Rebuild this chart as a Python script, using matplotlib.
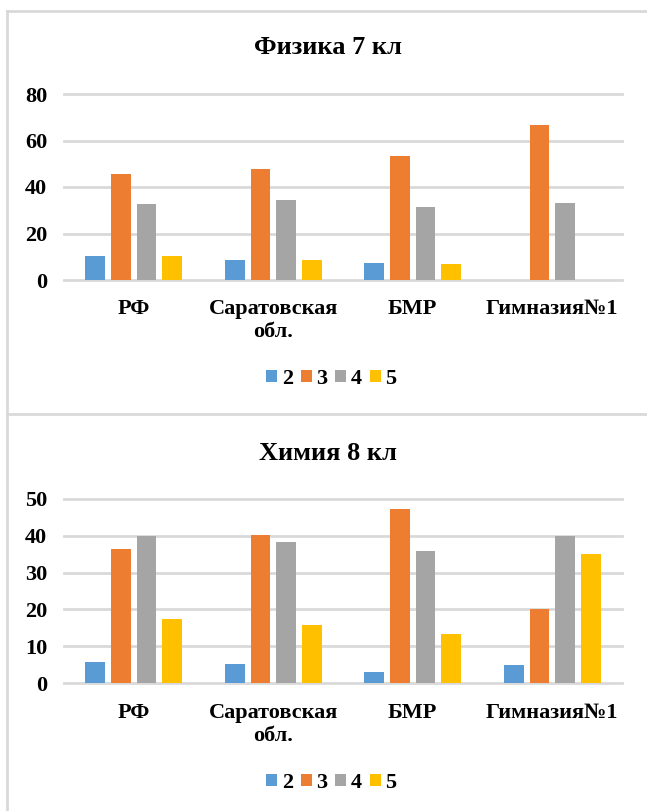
import matplotlib
matplotlib.use("Agg")
import matplotlib.pyplot as plt
import numpy as np
from matplotlib.lines import Line2D
from matplotlib.patches import Patch

categories = ["РФ", "Саратовская\nобл.", "БМР", "Гимназия№1"]
series_names = ["2", "3", "4", "5"]
colors = ["#5B9BD5", "#ED7D31", "#A5A5A5", "#FFC000"]

phys_title = "Физика 7 кл"
phys_2 = [10.5, 8.8, 7.5, 0]
phys_3 = [45.7, 47.7, 53.3, 66.6]
phys_4 = [32.7, 34.3, 31.6, 33.3]
phys_5 = [10.2, 8.8, 6.9, 0]
phys_ticks = [0, 20, 40, 60, 80]

chem_title = "Химия 8 кл"
chem_2 = [5.9, 5.2, 3.1, 5.0]
chem_3 = [36.4, 40.2, 47.3, 20.0]
chem_4 = [39.9, 38.4, 35.9, 40.0]
chem_5 = [17.5, 15.9, 13.4, 34.9]
chem_ticks = [0, 10, 20, 30, 40, 50]

FONT = "Liberation Serif"
W, H = 647, 811
fig = plt.figure(figsize=(W / 100, H / 100), dpi=100)
fig.patch.set_facecolor("white")

grid_c = "#D9D9D9"

def draw(rect, title, data, ticks, title_y, legend_y):
    ax = fig.add_axes(rect)
    x = np.arange(len(categories))
    bw = 0.143
    step = 0.183
    for i, (vals, c) in enumerate(zip(data, colors)):
        ax.bar(x + (i - 1.5) * step, vals, width=bw, color=c, zorder=3)
    ax.set_xlim(-0.5, len(categories) - 0.5)
    ax.set_ylim(ticks[0], ticks[-1])
    ax.set_yticks(ticks)
    ax.set_yticklabels([str(t) for t in ticks], fontfamily=FONT, fontweight="bold", fontsize=16)
    ax.set_xticks(x)
    ax.set_xticklabels(categories, fontfamily=FONT, fontweight="bold", fontsize=16, linespacing=1.2)
    ax.tick_params(axis="both", length=0)
    ax.tick_params(axis="y", pad=12)
    ax.tick_params(axis="x", pad=14)
    for s in ax.spines.values():
        s.set_visible(False)
    ax.yaxis.grid(True, color=grid_c, linewidth=2, zorder=0)
    ax.set_axisbelow(True)
    for gl in ax.get_ygridlines():
        gl.set_clip_on(False)
    fig.text(0.5 + 0.007, title_y, title, ha="center", va="center",
             fontfamily=FONT, fontweight="bold", fontsize=19)
    handles = [Patch(facecolor=c, edgecolor="none") for c in colors]
    fig.legend(handles, series_names, loc="center", bbox_to_anchor=(0.512, legend_y),
               ncol=4, frameon=False, handlelength=0.5, handleheight=0.5,
               handletextpad=0.2, columnspacing=0.35,
               prop={"family": FONT, "weight": "bold", "size": 16})
    return ax

draw([64 / W, 1 - 280 / H, 558 / W, 186 / H], phys_title,
     [phys_2, phys_3, phys_4, phys_5], phys_ticks, 1 - 48 / H, 1 - 379 / H)
draw([64 / W, 1 - 683.3 / H, 558 / W, 184.6 / H], chem_title,
     [chem_2, chem_3, chem_4, chem_5], chem_ticks, 1 - 453 / H, 1 - 783 / H)

# panel borders
bc = "#D9D9D9"
fig.add_artist(Line2D([7 / W, 7 / W], [0, 1 - 11 / H], color=bc, linewidth=2, transform=fig.transFigure))
fig.add_artist(Line2D([7 / W, 1], [1 - 11 / H, 1 - 11 / H], color=bc, linewidth=2, transform=fig.transFigure))
fig.add_artist(Line2D([7 / W, 1], [1 - 414 / H, 1 - 414 / H], color=bc, linewidth=2, transform=fig.transFigure))

fig.savefig("out.png", dpi=100, facecolor="white")
